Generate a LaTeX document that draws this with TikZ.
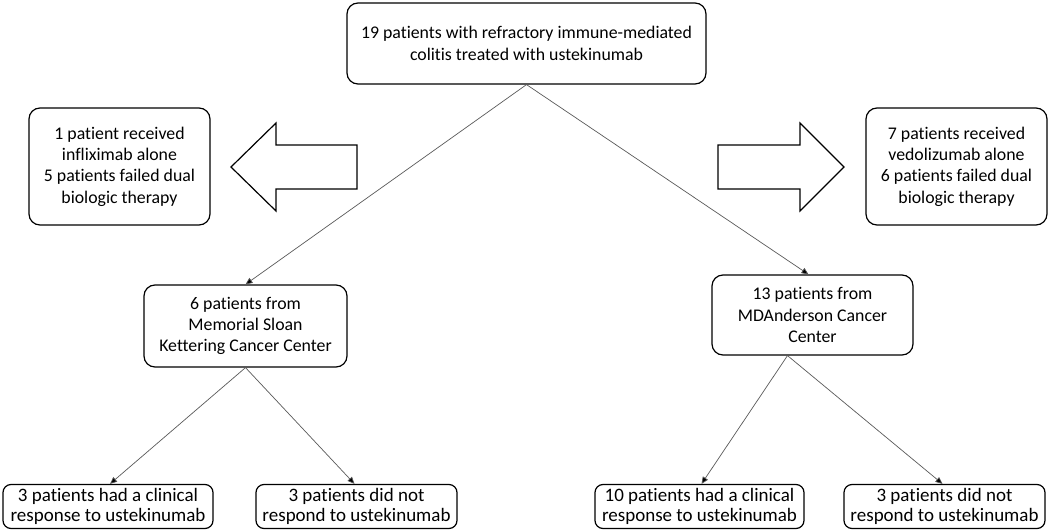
\documentclass[tikz,border=0pt]{standalone}
\usepackage{fontspec}
\setmainfont{Carlito}[Ligatures={NoCommon}]
\usetikzlibrary{arrows.meta}
\begin{document}
\begin{tikzpicture}[x=1pt,y=-1pt,
  box/.style={draw=black,line width=1.2pt,rounded corners=11pt,align=center,inner sep=2pt,
    font=\fontsize{17.8}{21.4}\selectfont},
  small/.style={box,rounded corners=8pt,minimum height=44pt,font=\fontsize{19}{20.5}\selectfont},
  conn/.style={draw=black!65,line width=0.7pt,-{Triangle[length=7pt,width=6pt,fill=black]}},
  fat/.style={draw=black,line width=1.2pt,fill=white,line join=miter}]
\useasboundingbox (0,0) rectangle (1050,530);
\node[box,minimum width=359pt,minimum height=81pt] (top) at (526.5,43.5)
  {19 patients with refractory immune-mediated\\colitis treated with ustekinumab};
\node[box,minimum width=181pt,minimum height=117pt] (li) at (119.5,166.5)
  {1 patient received\\infliximab alone\\5 patients failed dual\\biologic therapy};
\node[box,minimum width=181pt,minimum height=117pt] (ri) at (956.5,166.5)
  {7 patients received\\vedolizumab alone\\6 patients failed dual\\biologic therapy};
\node[box,minimum width=203pt,minimum height=82pt] (ml) at (245.5,326)
  {6 patients from\\Memorial Sloan\\Kettering Cancer Center};
\node[box,minimum width=201pt,minimum height=80pt] (mr) at (812.5,315)
  {13 patients from\\MDAnderson Cancer\\Center};
\node[small,minimum width=210pt] (bl1) at (108,506.5)
  {3 patients had a clinical\\response to ustekinumab};
\node[small,minimum width=201pt] (bl2) at (356.5,506.5)
  {3 patients did not\\respond to ustekinumab};
\node[small,minimum width=209pt] (br1) at (699.5,506.5)
  {10 patients had a clinical\\response to ustekinumab};
\node[small,minimum width=201pt] (br2) at (944.5,506.5)
  {3 patients did not\\respond to ustekinumab};
% fat arrows
\draw[fat] (357,145) -- (276,145) -- (276,123) -- (231,167) -- (276,211) -- (276,189) -- (357,189) -- cycle;
\draw[fat] (718,145) -- (800,145) -- (800,123) -- (844,167) -- (800,211) -- (800,189) -- (718,189) -- cycle;
% connectors
\draw[conn] (top.south) -- (ml.north);
\draw[conn] (top.south) -- ([xshift=-4pt]mr.north);
\coordinate (mrb) at ([xshift=-25pt]mr.south);
\draw[conn] (ml.south) -- ([xshift=2pt]bl1.north);
\draw[conn] (ml.south) -- ([xshift=-2pt]bl2.north);
\draw[conn] (mrb) -- ([xshift=2pt]br1.north);
\draw[conn] (mrb) -- ([xshift=-2pt]br2.north);
\end{tikzpicture}
\end{document}
